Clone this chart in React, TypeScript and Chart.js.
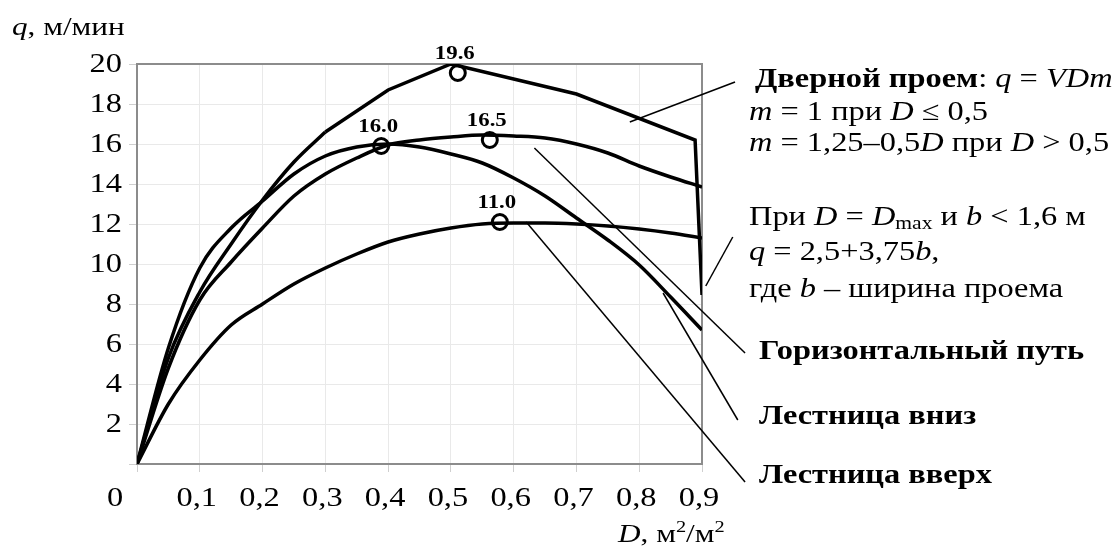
import React, { useEffect, useRef } from 'react';
import { Chart, registerables } from 'chart.js';

Chart.register(...registerables);

// ---------- data ----------
// door opening: smooth rise, then straight segments, then drop at maximum density
const doorRiseD = [0, 0.05, 0.1, 0.15, 0.2, 0.25, 0.3];
const doorRiseQ = [0, 5.3, 8.6, 11.0, 13.2, 15.1, 16.6];
const doorTopD = [0.3, 0.4, 0.5, 0.7, 0.889, 0.9];
const doorTopQ = [16.6, 18.7, 20.0, 18.5, 16.2, 8.45];

const horizD = [0, 0.05, 0.1, 0.15, 0.2, 0.25, 0.3, 0.35, 0.4, 0.45, 0.5, 0.55, 0.6, 0.65, 0.7, 0.75, 0.8, 0.85, 0.9];
const horizQ = [0, 4.8, 8.2, 10.1, 11.8, 13.4, 14.5, 15.3, 15.95, 16.2, 16.35, 16.45, 16.4, 16.3, 16.0, 15.55, 14.9, 14.35, 13.85];

const downD = [0, 0.05, 0.1, 0.15, 0.2, 0.25, 0.3, 0.35, 0.4, 0.45, 0.5, 0.55, 0.6, 0.65, 0.7, 0.75, 0.8, 0.85, 0.9];
const downQ = [0, 5.8, 9.8, 11.8, 13.15, 14.5, 15.4, 15.85, 16.0, 15.85, 15.5, 15.05, 14.3, 13.4, 12.3, 11.2, 9.95, 8.35, 6.7];

const upD = [0, 0.05, 0.1, 0.15, 0.2, 0.25, 0.3, 0.35, 0.4, 0.45, 0.5, 0.55, 0.6, 0.65, 0.7, 0.75, 0.8, 0.85, 0.9];
const upQ = [0, 3.0, 5.2, 6.95, 8.0, 9.0, 9.8, 10.5, 11.1, 11.5, 11.8, 12.0, 12.05, 12.05, 12.0, 11.9, 11.75, 11.55, 11.3];

// peak markers
const peakD = [0.511, 0.389, 0.562, 0.578];
const peakQ = [19.55, 15.9, 16.2, 12.1];
const peakLabels = ['19.6', '16.0', '16.5', '11.0'];

// leader lines (data units)
const leaderFromD = [0.785, 0.906, 0.633, 0.838, 0.62];
const leaderFromQ = [17.1, 8.9, 15.8, 8.55, 12.1];
const leaderToD = [0.9526, 0.949, 0.9686, 0.957, 0.9686];
const leaderToQ = [19.1, 11.35, 5.55, 2.2, -0.9];

// axis ticks
const xMin = 0;
const xMax = 0.9;
const xStep = 0.1;
const yMin = 0;
const yMax = 20;
const yStep = 2;

// ---------- text ----------
type Run = { t: string; s?: 'b' | 'i' | 'n'; sub?: boolean; sup?: boolean };
type TextLine = { x: number; y: number; size: number; runs: Run[] };

const SERIF = '"Liberation Serif", "Times New Roman", serif';
const STRETCH = 1.2;

const textLines: TextLine[] = [
  { x: 12, y: 35, size: 26, runs: [{ t: 'q', s: 'i' }, { t: ', м/мин' }] },
  {
    x: 618, y: 542, size: 26,
    runs: [{ t: 'D', s: 'i' }, { t: ', м' }, { t: '2', sup: true }, { t: '/м' }, { t: '2', sup: true }],
  },
  {
    x: 755, y: 87, size: 27,
    runs: [{ t: 'Дверной проем', s: 'b' }, { t: ': ' }, { t: 'q', s: 'i' }, { t: ' = ' }, { t: 'VDm', s: 'i' }],
  },
  {
    x: 749, y: 120, size: 27,
    runs: [{ t: 'm', s: 'i' }, { t: ' = 1 при ' }, { t: 'D', s: 'i' }, { t: ' ≤ 0,5' }],
  },
  {
    x: 749, y: 151, size: 27,
    runs: [{ t: 'm', s: 'i' }, { t: ' = 1,25–0,5' }, { t: 'D', s: 'i' }, { t: ' при ' }, { t: 'D', s: 'i' }, { t: ' > 0,5' }],
  },
  {
    x: 749, y: 225, size: 27,
    runs: [
      { t: 'При ' }, { t: 'D', s: 'i' }, { t: ' = ' }, { t: 'D', s: 'i' }, { t: 'max', sub: true },
      { t: ' и ' }, { t: 'b', s: 'i' }, { t: ' < 1,6 м' },
    ],
  },
  {
    x: 749, y: 260, size: 27,
    runs: [{ t: 'q', s: 'i' }, { t: ' = 2,5+3,75' }, { t: 'b', s: 'i' }, { t: ',' }],
  },
  {
    x: 749, y: 297, size: 27,
    runs: [{ t: 'где ' }, { t: 'b', s: 'i' }, { t: ' – ширина проема' }],
  },
  { x: 759, y: 359, size: 27, runs: [{ t: 'Горизонтальный путь', s: 'b' }] },
  { x: 759, y: 424, size: 27, runs: [{ t: 'Лестница вниз', s: 'b' }] },
  { x: 759, y: 483, size: 27, runs: [{ t: 'Лестница вверх', s: 'b' }] },
];

const zeroLabel = { x: 115, y: 499, text: '0' };
const TICK_SIZE = 27;

function fontFor(run: Run, size: number) {
  const sz = run.sub || run.sup ? Math.round(size * 0.65) : size;
  const style = run.s === 'i' ? 'italic ' : '';
  const weight = run.s === 'b' ? 'bold ' : '';
  return `${style}${weight}${sz}px ${SERIF}`;
}

function drawStretched(ctx: CanvasRenderingContext2D, text: string, x: number, y: number, align: 'left' | 'center' | 'right') {
  const w = ctx.measureText(text).width * STRETCH;
  let x0 = x;
  if (align === 'center') x0 = x - w / 2;
  if (align === 'right') x0 = x - w;
  ctx.save();
  ctx.translate(x0, y);
  ctx.scale(STRETCH, 1);
  ctx.textAlign = 'left';
  ctx.fillText(text, 0, 0);
  ctx.restore();
}

const overlayPlugin = {
  id: 'overlay',
  beforeDatasetsDraw(chart: any) {
    const { ctx, chartArea } = chart;
    ctx.save();
    ctx.strokeStyle = '#8c8c8c';
    ctx.lineWidth = 2;
    ctx.beginPath();
    ctx.moveTo(chartArea.left, chartArea.top);
    ctx.lineTo(chartArea.right, chartArea.top);
    ctx.lineTo(chartArea.right, chartArea.bottom);
    ctx.stroke();
    ctx.restore();
  },
  afterDatasetsDraw(chart: any) {
    const { ctx } = chart;
    const xs = chart.scales.x;
    const ys = chart.scales.y;
    ctx.save();
    // leader lines
    ctx.strokeStyle = '#000';
    ctx.lineWidth = 1.5;
    for (let i = 0; i < leaderFromD.length; i++) {
      ctx.beginPath();
      ctx.moveTo(xs.getPixelForValue(leaderFromD[i]), ys.getPixelForValue(leaderFromQ[i]));
      ctx.lineTo(xs.getPixelForValue(leaderToD[i]), ys.getPixelForValue(leaderToQ[i]));
      ctx.stroke();
    }
    ctx.fillStyle = '#000';
    // tick labels (from the library's tick list)
    ctx.font = `${TICK_SIZE}px ${SERIF}`;
    ctx.textBaseline = 'middle';
    for (const t of ys.ticks) {
      if (Math.abs(t.value) < 1e-9) continue;
      drawStretched(ctx, String(t.value), 122, ys.getPixelForValue(t.value) + 1, 'right');
    }
    for (const t of xs.ticks) {
      if (Math.abs(t.value) < 1e-9) continue;
      const label = Number(t.value).toFixed(1).replace('.', ',');
      drawStretched(ctx, label, xs.getPixelForValue(t.value) - 3, 499, 'center');
    }
    drawStretched(ctx, zeroLabel.text, zeroLabel.x, zeroLabel.y, 'center');
    // peak labels
    ctx.textBaseline = 'alphabetic';
    ctx.font = `bold 19px ${SERIF}`;
    for (let i = 0; i < peakD.length; i++) {
      const px = xs.getPixelForValue(peakD[i]);
      const py = ys.getPixelForValue(peakQ[i]);
      drawStretched(ctx, peakLabels[i], px - 3, py - 14, 'center');
    }
    // text lines
    for (const line of textLines) {
      let x = line.x;
      for (const run of line.runs) {
        ctx.font = fontFor(run, line.size);
        let y = line.y;
        if (run.sup) y -= line.size * 0.4;
        if (run.sub) y += line.size * 0.15;
        drawStretched(ctx, run.t, x, y, 'left');
        x += ctx.measureText(run.t).width * STRETCH;
      }
    }
    ctx.restore();
  },
};

function toPoints(d: number[], q: number[]) {
  return d.map((v, i) => ({ x: v, y: q[i] }));
}

export default function App() {
  const ref = useRef<HTMLCanvasElement | null>(null);

  useEffect(() => {
    document.body.style.margin = '0';
    const canvas = ref.current;
    if (!canvas) return;
    const curve = {
      borderColor: '#000',
      borderWidth: 3.5,
      pointRadius: 0,
      fill: false,
      cubicInterpolationMode: 'monotone' as const,
      borderJoinStyle: 'round' as const,
    };
    const hidden = 'rgba(0,0,0,0)';
    const chart = new Chart(canvas, {
      type: 'line',
      data: {
        datasets: [
          { ...curve, label: 'Дверной проем', data: toPoints(doorRiseD, doorRiseQ) },
          {
            ...curve,
            label: 'Дверной проем ',
            data: toPoints(doorTopD, doorTopQ),
            cubicInterpolationMode: 'default',
            tension: 0,
            borderJoinStyle: 'miter',
          } as any,
          { ...curve, label: 'Горизонтальный путь', data: toPoints(horizD, horizQ) },
          { ...curve, label: 'Лестница вниз', data: toPoints(downD, downQ) },
          { ...curve, label: 'Лестница вверх', data: toPoints(upD, upQ) },
          {
            label: 'peaks',
            data: toPoints(peakD, peakQ),
            showLine: false,
            pointRadius: 7.5,
            pointBorderWidth: 3,
            pointBackgroundColor: '#fff',
            pointBorderColor: '#000',
          },
        ],
      },
      options: {
        responsive: false,
        animation: false,
        events: [],
        layout: { padding: { left: 0, top: 64, right: 413, bottom: 0 } },
        plugins: { legend: { display: false }, tooltip: { enabled: false } },
        scales: {
          x: {
            type: 'linear',
            min: xMin,
            max: xMax,
            ticks: {
              stepSize: xStep,
              autoSkip: false,
              maxRotation: 0,
              color: hidden,
              font: { family: SERIF, size: TICK_SIZE },
            },
            grid: { color: '#e9e9e9', tickColor: '#cfcfcf', tickLength: 8, lineWidth: 1 },
            border: { color: '#8c8c8c', width: 2 },
            afterFit: (s: any) => { s.height = 83; },
          },
          y: {
            type: 'linear',
            min: yMin,
            max: yMax,
            ticks: {
              stepSize: yStep,
              color: hidden,
              font: { family: SERIF, size: TICK_SIZE },
            },
            grid: { color: '#e9e9e9', tickColor: '#cfcfcf', tickLength: 8, lineWidth: 1 },
            border: { color: '#8c8c8c', width: 2 },
            afterFit: (s: any) => { s.width = 137; },
          },
        },
      },
      plugins: [overlayPlugin],
    });
    return () => chart.destroy();
  }, []);

  return (
    <div style={{ width: 1115, height: 547, background: '#fff' }}>
      <canvas ref={ref} width={1115} height={547} style={{ display: 'block' }} />
    </div>
  );
}
